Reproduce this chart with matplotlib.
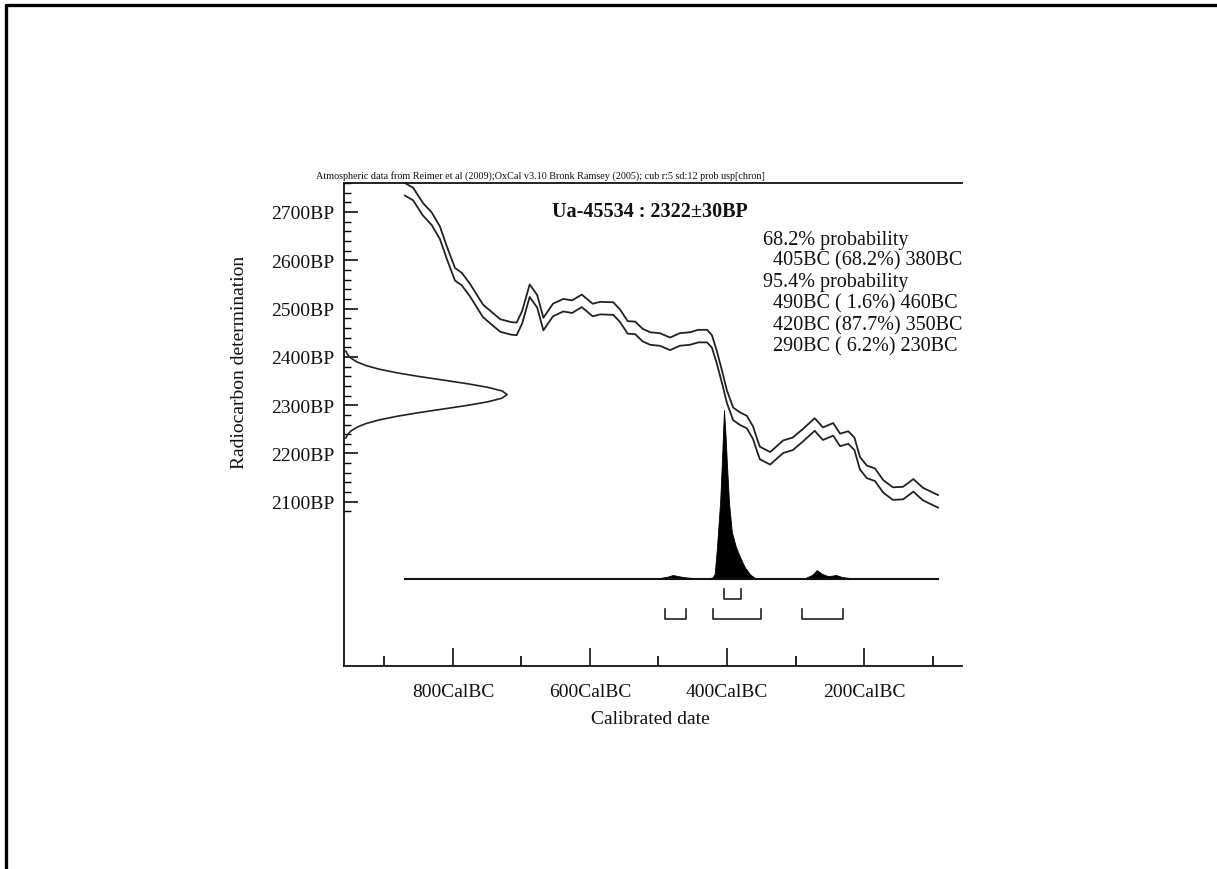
import numpy as np
import matplotlib
matplotlib.use("Agg")
import matplotlib.pyplot as plt
from matplotlib.lines import Line2D

# ---------------- data ----------------
SAMPLE_NAME = "Ua-45534"
SAMPLE_BP = 2322
SAMPLE_ERR = 30

# calibration curve (mid line, years BC / BP) and its 1-sigma half width
CURVE_BC = [870, 858, 844, 831, 819, 809, 797, 787, 775, 756, 731, 715, 707, 699,
            688, 677, 668, 654, 639, 626, 612, 596, 585, 566, 556, 545, 534, 523,
            512, 498, 483, 469, 454, 442, 429, 422, 415, 407, 400, 391, 381, 371,
            362, 356, 352, 337, 318, 304, 289, 272, 260, 245, 235, 223, 214, 206,
            196, 184, 172, 158, 143, 128, 114, 101, 92]
CURVE_BP = [2747, 2737, 2706, 2686, 2657, 2616, 2571, 2561, 2538, 2495, 2465, 2459, 2458, 2482,
            2537, 2515, 2468, 2497, 2507, 2504, 2516, 2497, 2501, 2500, 2485, 2461, 2460, 2445,
            2438, 2436, 2427, 2436, 2438, 2443, 2443, 2432, 2400, 2357, 2317, 2282, 2272, 2265,
            2243, 2217, 2201, 2190, 2214, 2220, 2238, 2260, 2241, 2250, 2228, 2233, 2220, 2180,
            2162, 2156, 2132, 2117, 2118, 2134, 2116, 2107, 2101]
CURVE_SIGMA = 13

# measured radiocarbon date distribution (BP, relative density)
MEAS_BP = [2232, 2239.5, 2247, 2254.5, 2262, 2269.5, 2277, 2284.5, 2292, 2299.5, 2307, 2314.5,
           2322, 2329.5, 2337, 2344.5, 2352, 2359.5, 2367, 2374.5, 2382, 2389.5, 2397, 2404.5, 2412]
MEAS_REL = [0.011, 0.023, 0.044, 0.080, 0.135, 0.216, 0.325, 0.458, 0.607, 0.755, 0.882, 0.969,
            1.0, 0.969, 0.882, 0.755, 0.607, 0.458, 0.325, 0.216, 0.135, 0.080, 0.044, 0.023, 0.011]

# calibrated probability distribution (years BC, relative probability)
POST_BC = [870, 560, 527, 498, 486, 479, 472, 464, 450, 439, 425, 421, 418, 415, 412,
           410, 408, 406, 404.4, 402, 400, 397, 393, 387, 381, 374, 366, 359, 350,
           300, 286, 276, 269, 261, 253, 247, 241, 232, 220, 206, 150, 92]
POST_REL = [0.0, 0.0, 0.003, 0.006, 0.015, 0.024, 0.018, 0.012, 0.006, 0.006, 0.006, 0.01,
            0.03, 0.17, 0.34, 0.46, 0.64, 0.84, 1.0, 0.84, 0.67, 0.45, 0.28, 0.19, 0.13, 0.07,
            0.026, 0.006, 0.003, 0.003, 0.006, 0.024, 0.053, 0.03, 0.018, 0.02, 0.024, 0.012,
            0.006, 0.003, 0.001, 0.0]

# highest-probability ranges (start BC, end BC)
RANGES_68 = [(405, 380)]
RANGES_95 = [(490, 460), (420, 350), (290, 230)]

PROB_LINES = ["68.2% probability",
              "  405BC (68.2%) 380BC",
              "95.4% probability",
              "  490BC ( 1.6%) 460BC",
              "  420BC (87.7%) 350BC",
              "  290BC ( 6.2%) 230BC"]

X_MAJOR_BC = [800, 600, 400, 200]
X_MINOR_BC = [900, 700, 500, 300, 100]
Y_MAJOR_BP = [2100, 2200, 2300, 2400, 2500, 2600, 2700]

HEADER = ("Atmospheric data from Reimer et al (2009);OxCal v3.10 Bronk Ramsey (2005); "
          "cub r:5 sd:12 prob usp[chron]")

# ---------------- figure ----------------
W, H = 1217, 870
plt.rcParams['font.family'] = ['Liberation Serif', 'DejaVu Serif']
fig = plt.figure(figsize=(W / 100, H / 100), dpi=100)
fig.patch.set_facecolor('white')

def fx(px):
    return px / W

def fy(py):
    return 1 - py / H

# page frame (top and left edges)
fig.add_artist(Line2D([fx(6), fx(6), 1.0], [0.0, fy(6), fy(6)], color='black', lw=2.4,
                      transform=fig.transFigure))

ax = fig.add_axes([fx(344), fy(667), fx(962) - fx(344), fy(184) - fy(667)])
XMIN, XMAX = -959, -57
YMIN, YMAX = 1760, 2760
ax.set_xlim(XMIN, XMAX)
ax.set_ylim(YMIN, YMAX)

for s in ['left', 'bottom', 'top']:
    ax.spines[s].set_linewidth(1.3)
    ax.spines[s].set_color('#111111')
ax.spines['right'].set_visible(False)

# calibration curve envelope
cx = -np.array(CURVE_BC, dtype=float)
cy = np.array(CURVE_BP, dtype=float)
ax.plot(cx, cy + CURVE_SIGMA, color='#222222', lw=1.3)
ax.plot(cx, cy - CURVE_SIGMA, color='#222222', lw=1.3)

# measured date distribution on the y axis
MEAS_WIDTH = 238  # years of x-axis for the peak
ax.plot(XMIN + np.array(MEAS_REL) * MEAS_WIDTH, MEAS_BP, color='#222222', lw=1.2,
        clip_on=False)

# calibrated distribution
BASE = 1940
POST_HEIGHT = 350
px = -np.array(POST_BC, dtype=float)
py = BASE + np.array(POST_REL) * POST_HEIGHT
ax.fill_between(px, BASE, py, color='black', lw=0.6, edgecolor='black')
ax.plot([-CURVE_BC[0], -CURVE_BC[-1]], [BASE, BASE], color='#111111', lw=1.5)

# range brackets
def bracket(a, b, ytop, ybot):
    ax.plot([-a, -a, -b, -b], [ytop, ybot, ybot, ytop], color='#222222', lw=1.2)

for a, b in RANGES_68:
    bracket(a, b, 1919, 1899)
for a, b in RANGES_95:
    bracket(a, b, 1878, 1857)

# ticks
ax.set_xticks([-v for v in X_MAJOR_BC])
ax.set_xticklabels([f"{v}CalBC" for v in X_MAJOR_BC])
ax.set_xticks([-v for v in X_MINOR_BC], minor=True)
ax.set_yticks(Y_MAJOR_BP)
ax.set_yticklabels([f"{v}BP" for v in Y_MAJOR_BP])
ax.set_yticks([v for v in range(2080, 2761, 20) if v % 100 != 0], minor=True)
ax.tick_params(axis='x', which='major', direction='in', length=13, width=1.2,
               labelsize=14, pad=12, colors='#111111')
ax.tick_params(axis='x', which='minor', direction='in', length=7, width=1.2)
ax.tick_params(axis='y', which='major', direction='in', length=10, width=1.2,
               labelsize=14, pad=7, colors='#111111')
ax.tick_params(axis='y', which='minor', direction='in', length=5, width=1.0)

# texts
fig.text(fx(650), fy(720), "Calibrated date", ha='center', va='center', fontsize=14,
         color='#111111')
fig.text(fx(240), fy(362), "Radiocarbon determination", ha='center', va='center',
         rotation=90, fontsize=14, color='#111111')
fig.text(fx(650), fy(212), f"{SAMPLE_NAME} : {SAMPLE_BP}\u00b1{SAMPLE_ERR}BP",
         ha='center', va='center', fontsize=14.5, fontweight='bold', color='#111111')
fig.text(fx(316), fy(176), HEADER, ha='left', va='center', fontsize=7.3, color='#111111')

ys = [240, 261, 283, 304, 326, 347]
for line, yy in zip(PROB_LINES, ys):
    fig.text(fx(763), fy(yy), line, ha='left', va='center', fontsize=14.5, color='#111111')

fig.savefig("out.png", dpi=100, facecolor='white')
